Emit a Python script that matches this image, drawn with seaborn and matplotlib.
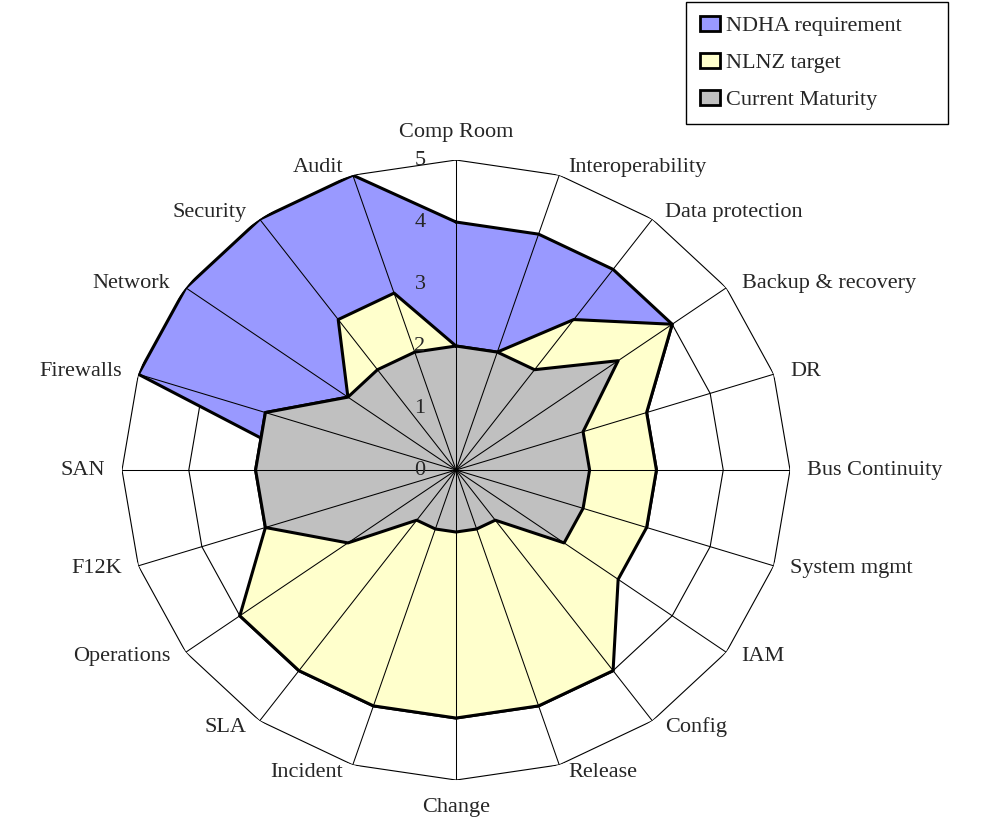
import numpy as np
import pandas as pd
import seaborn as sns
import matplotlib.pyplot as plt
from matplotlib.patches import Patch

# chart data
CATEGORIES = ["Comp Room", "Interoperability", "Data protection", "Backup & recovery",
              "DR", "Bus Continuity", "System mgmt", "IAM", "Config", "Release",
              "Change", "Incident", "SLA", "Operations", "F12K", "SAN",
              "Firewalls", "Network", "Security", "Audit"]
NDHA_REQUIREMENT = [4, 4, 4, 4, 3, 3, 3, 2, 4, 4, 4, 4, 4, 4, 2, 2, 5, 5, 5, 5]
NLNZ_TARGET = [2, 2, 3, 4, 3, 3, 3, 3, 4, 4, 4, 4, 4, 4, 3, 3, 3, 2, 3, 3]
CURRENT_MATURITY = [2, 2, 2, 3, 2, 2, 2, 2, 1, 1, 1, 1, 1, 2, 3, 3, 3, 2, 2, 2]
SERIES_NAMES = ["NDHA requirement", "NLNZ target", "Current Maturity"]
SERIES_COLORS = ["#9999FF", "#FFFFCC", "#C0C0C0"]
RADIAL_TICKS = [0, 1, 2, 3, 4, 5]

sns.set_style("white")
plt.rcParams['font.family'] = ['Liberation Serif', 'DejaVu Serif']
FONT_SIZE = 16

df = pd.DataFrame({
    "category": CATEGORIES,
    SERIES_NAMES[0]: NDHA_REQUIREMENT,
    SERIES_NAMES[1]: NLNZ_TARGET,
    SERIES_NAMES[2]: CURRENT_MATURITY,
})
n = len(df)
df["theta"] = np.arange(n) * 2 * np.pi / n
theta_closed = np.append(df["theta"].values, 2 * np.pi)

fig = plt.figure(figsize=(9.83, 8.21), dpi=100)
ax = fig.add_axes([0.1241, 0.0499, 0.6796, 0.7552], projection='polar')
ax.set_aspect('auto')
ax.set_theta_zero_location('N')
ax.set_theta_direction(-1)
ax.grid(False)
ax.spines['polar'].set_visible(False)

# polygon gridlines (sit under the filled series)
for k in RADIAL_TICKS[1:]:
    ax.plot(theta_closed, [k] * (n + 1), color='black', lw=0.8, zorder=1)

# filled series, drawn back to front
for i, (name, color) in enumerate(zip(SERIES_NAMES, SERIES_COLORS)):
    vals = np.append(df[name].values, df[name].values[0])
    ax.fill(theta_closed, vals, color=color, lw=0, zorder=2 + i)
    sns.lineplot(x=theta_closed, y=vals, sort=False, ax=ax, color='black',
                 lw=2.2, zorder=2 + i)

# spokes on top
for a in df["theta"]:
    ax.plot([a, a], [0, RADIAL_TICKS[-1]], color='black', lw=0.75, zorder=6)

ax.set_ylim(0, RADIAL_TICKS[-1])
ax.set_xticks([])
ax.set_yticks([])
ax.set_xlabel('')
ax.set_ylabel('')

# category labels
for a, lab in zip(df["theta"], df["category"]):
    s, c = np.sin(a), np.cos(a)
    if abs(s) < 0.1:
        ha = 'center'
        va = 'bottom' if c > 0 else 'top'
        off = (0, 18 if c > 0 else -18)
    else:
        ha = 'left' if s > 0 else 'right'
        va = 'center'
        off = (np.sign(s) * 17 * np.sqrt(abs(s)), 8 * c)
    ax.annotate(lab, xy=(a, RADIAL_TICKS[-1]), xytext=off, textcoords='offset pixels',
                ha=ha, va=va, fontsize=FONT_SIZE, annotation_clip=False)

# value axis labels along the top spoke
for k in RADIAL_TICKS:
    ax.annotate(str(k), xy=(0, k), xytext=(-36, 0), textcoords='offset pixels',
                ha='center', va='center', fontsize=FONT_SIZE, zorder=10,
                annotation_clip=False)

handles = [Patch(facecolor=c, edgecolor='black', lw=2) for c in SERIES_COLORS]
leg = fig.legend(handles, SERIES_NAMES, loc='upper left', mode='expand',
                 bbox_to_anchor=(686 / 983, 1 - 2 / 821, 262 / 983, 0),
                 fontsize=FONT_SIZE, fancybox=False, shadow=False, framealpha=1,
                 edgecolor='black', borderaxespad=0, borderpad=0.64,
                 labelspacing=0.75, handlelength=0.9, handleheight=0.65,
                 handletextpad=0.25)
leg.get_frame().set_linewidth(1.0)

fig.savefig('out.png', dpi=100)
